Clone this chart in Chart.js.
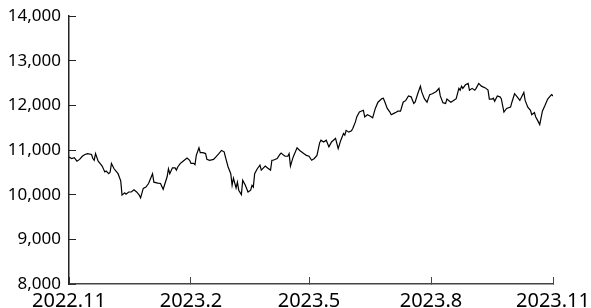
<!DOCTYPE html>
<html>
<head>
<meta charset="utf-8">
<script src="https://cdn.jsdelivr.net/npm/chart.js@4.4.0/dist/chart.umd.min.js"></script>
<style>
  html, body { margin: 0; padding: 0; background: #fff; }
  #wrap { width: 591px; height: 308px; }
</style>
</head>
<body>
<div id="wrap"><canvas id="chart"></canvas></div>
<script>
// days since 2022-11-01
const days = [
  0, 2, 4, 6, 8, 10, 12, 14, 17, 18,
  19, 20, 22, 24, 25, 27, 28, 30, 31, 32,
  34, 37, 39, 40, 42, 43, 45, 47, 49, 51,
  53, 54, 56, 58, 60, 63, 64, 67, 69, 71,
  74, 75, 76, 78, 80, 81, 82, 84, 86, 89,
  91, 92, 94, 95, 96, 98, 99, 101, 103, 104,
  106, 109, 110, 113, 115, 117, 118, 120, 122, 123,
  124, 126, 127, 128, 130, 131, 133, 135, 137, 138,
  139, 140, 142, 144, 145, 148, 150, 152, 153, 154,
  157, 159, 160, 162, 163, 165, 166, 167, 169, 172,
  174, 177, 179, 181, 183, 185, 187, 189, 190, 192,
  194, 196, 198, 201, 203, 205, 207, 208, 209, 211,
  213, 214, 216, 217, 219, 222, 223, 225, 227, 229,
  231, 233, 236, 237, 238, 240, 242, 243, 245, 247,
  248, 250, 252, 254, 256, 258, 260, 261, 263, 265,
  266, 268, 270, 272, 274, 277, 279, 280, 282, 284,
  285, 287, 288, 290, 292, 294, 295, 296, 297, 299,
  301, 302, 304, 306, 307, 309, 311, 314, 316, 317,
  319, 320, 321, 323, 325, 326, 328, 330, 333, 334,
  336, 338, 340, 343, 344, 346, 348, 349, 351, 352,
  354, 355, 357, 359, 361, 363, 364, 365
];

const values = [
  10840, 10810, 10830, 10750, 10790, 10860, 10900, 10920, 10900, 10810,
  10770, 10920, 10750, 10680, 10640, 10510, 10530, 10470, 10500, 10700,
  10580, 10470, 10310, 9990, 10040, 10010, 10060, 10060, 10110, 10060,
  9990, 9930, 10140, 10170, 10250, 10470, 10280, 10260, 10250, 10120,
  10400, 10580, 10470, 10600, 10600, 10550, 10620, 10700, 10750, 10820,
  10770, 10700, 10700, 10670, 10880, 11050, 10940, 10940, 10920, 10790,
  10770, 10790, 10820, 10920, 10990, 10960, 10840, 10620, 10470, 10210,
  10370, 10150, 10280, 10100, 10000, 10320, 10210, 10060, 10100, 10210,
  10170, 10470, 10580, 10660, 10550, 10640, 10590, 10550, 10770, 10770,
  10810, 10900, 10930, 10880, 10860, 10860, 10920, 10640, 10840, 11050,
  10990, 10920, 10880, 10860, 10770, 10810, 10880, 11160, 11220, 11180,
  11220, 11070, 11180, 11260, 11030, 11220, 11370, 11330, 11440, 11400,
  11430, 11480, 11630, 11740, 11850, 11890, 11740, 11790, 11760, 11720,
  11930, 12070, 12150, 12160, 12090, 11930, 11850, 11790, 11820, 11850,
  11870, 11870, 12070, 12110, 12210, 12190, 12040, 12070, 12260, 12430,
  12300, 12150, 12070, 12240, 12260, 12310, 12380, 12210, 12060, 12040,
  12140, 12090, 12070, 12110, 12150, 12380, 12340, 12430, 12380, 12460,
  12490, 12340, 12380, 12340, 12380, 12490, 12430, 12390, 12340, 12140,
  12140, 12160, 12090, 12210, 12190, 12150, 11850, 11930, 11960, 12070,
  12260, 12190, 12110, 12290, 12110, 11960, 11890, 11790, 11840, 11740,
  11630, 11570, 11870, 12000, 12140, 12210, 12240, 12210
];

const tickDays = [0, 92, 181, 273, 365];
const tickLabels = ["2022.11", "2023.2", "2023.5", "2023.8", "2023.11"];

const yMin = 8000;
const yMax = 14000;
const yStep = 1000;

const points = days.map((d, i) => ({ x: d, y: values[i] }));

// stop the axes from reserving extra room for label overflow
function noOverflow(axis) {
  axis.paddingLeft = 0;
  axis.paddingRight = 0;
  axis.paddingTop = 0;
  axis.paddingBottom = 0;
}

const ctx = document.getElementById("chart").getContext("2d");
new Chart(ctx, {
  type: "line",
  data: {
    datasets: [{
      data: points,
      borderColor: "#000",
      borderWidth: 1.2,
      pointRadius: 0,
      tension: 0,
      fill: false
    }]
  },
  options: {
    responsive: true,
    maintainAspectRatio: false,
    animation: false,
    layout: { padding: { top: 16, right: 38, left: 0, bottom: 0 } },
    plugins: {
      legend: { display: false },
      tooltip: { enabled: false }
    },
    scales: {
      x: {
        type: "linear",
        min: 0,
        max: 365,
        afterBuildTicks: axis => {
          axis.ticks = tickDays.map(v => ({ value: v }));
        },
        afterFit: axis => {
          axis.height = 24;
          noOverflow(axis);
        },
        ticks: {
          autoSkip: false,
          maxRotation: 0,
          padding: 12,
          color: "#000",
          font: { family: "Noto Sans", size: 20 },
          callback: (v) => tickLabels[tickDays.indexOf(v)]
        },
        grid: {
          drawOnChartArea: false,
          tickLength: -7,
          color: "#444",
          lineWidth: 1
        },
        border: { display: true, color: "#444", width: 1.5 }
      },
      y: {
        min: yMin,
        max: yMax,
        afterFit: axis => {
          axis.width = 69;
          noOverflow(axis);
        },
        ticks: {
          stepSize: yStep,
          padding: 15,
          color: "#000",
          font: { family: "Noto Sans", size: 17 },
          callback: v => v.toLocaleString("en-US")
        },
        grid: {
          drawOnChartArea: false,
          tickLength: -7,
          color: "#222",
          lineWidth: 1
        },
        border: { display: true, color: "#222", width: 1.5 }
      }
    }
  }
});
</script>
</body>
</html>
